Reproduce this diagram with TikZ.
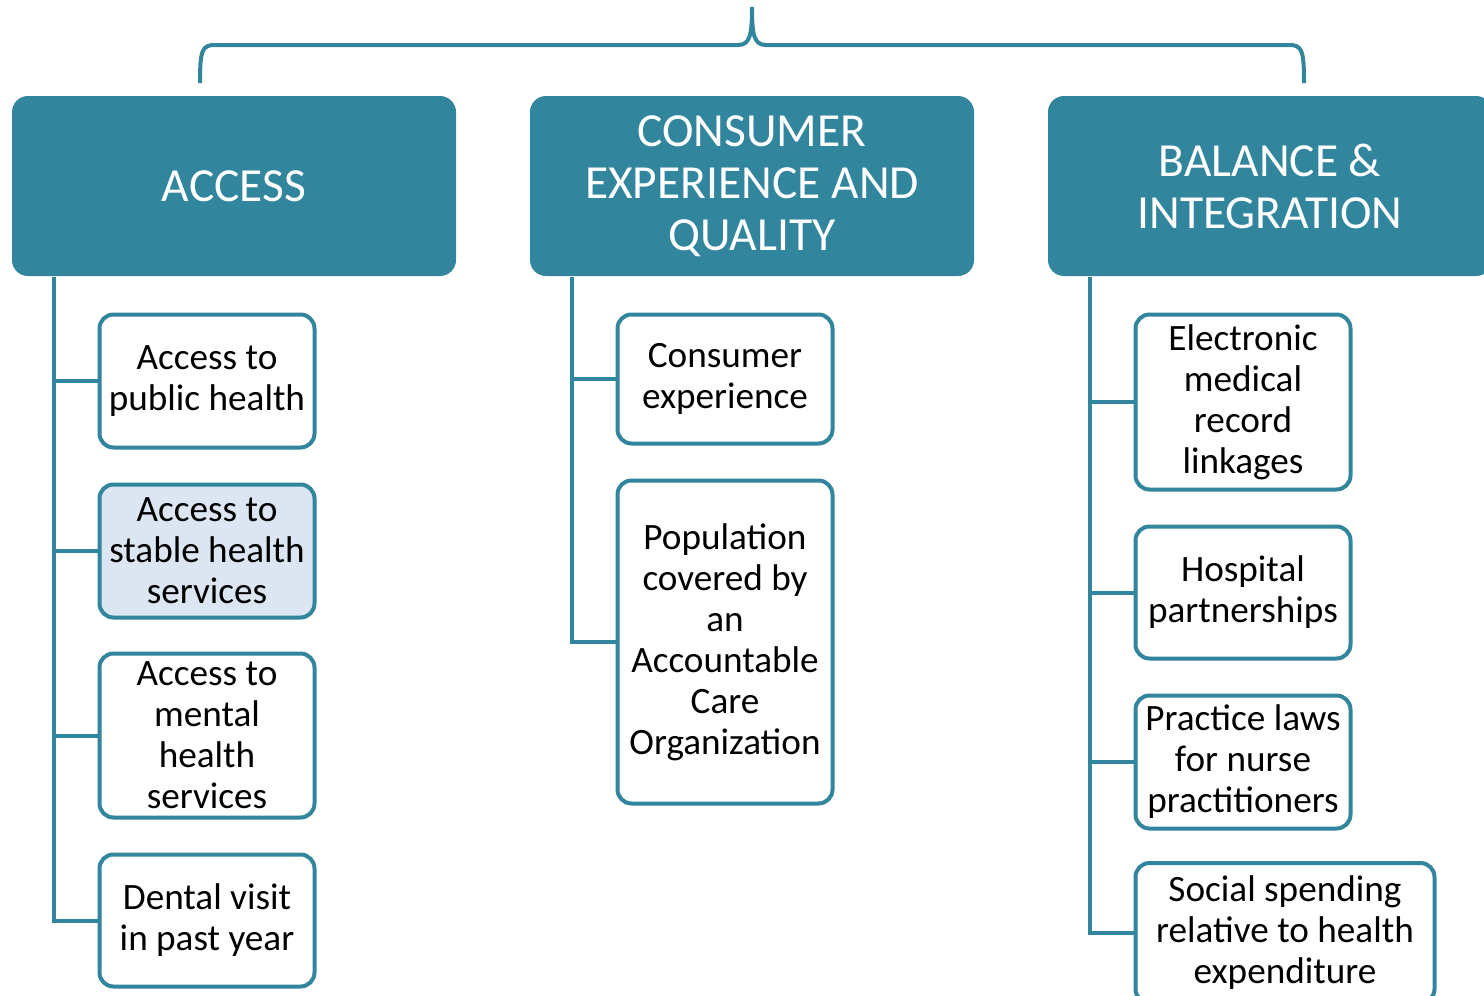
\documentclass[tikz,border=0pt]{standalone}
\usepackage{fontspec}
\setmainfont{Carlito}
\definecolor{teal1}{RGB}{49,133,156}
\definecolor{pale}{RGB}{220,230,242}
\begin{document}
\begin{tikzpicture}[x=1pt,y=-1pt,
  header/.style={fill=teal1,draw=none,rounded corners=16pt,text=white,align=center,inner sep=0pt,
    font=\fontsize{47.5}{52}\selectfont,minimum width=444pt,minimum height=180pt},
  child/.style={draw=teal1,line width=4pt,rounded corners=14pt,fill=white,align=center,inner sep=0pt,
    font=\fontsize{37.2}{41}\selectfont,minimum width=215pt},
  conn/.style={draw=teal1,line width=4pt}]
\useasboundingbox (0,0) rectangle (1484,996);
% brace
\draw[conn,line width=4pt] (200,83) .. controls (200,50) and (202,45) .. (215,45) -- (738,45)
  .. controls (750,45) and (752,35) .. (752,7) .. controls (752,35) and (754,45) .. (766,45)
  -- (1289,45) .. controls (1302,45) and (1304,50) .. (1304,83);
% headers
\node[header] (h1) at (234,186) {ACCESS};
\node[header] (h2) at (752,186) {CONSUMER\\EXPERIENCE AND\\QUALITY};
\node[header] (h3) at (1270,186) {BALANCE \&\\INTEGRATION};
% access children
\node[child,minimum height=133pt] (a1) at (207,381) {Access to\\public health};
\node[child,minimum height=133pt,fill=pale] (a2) at (207,551) {Access to\\stable health\\services};
\node[child,minimum height=164pt] (a3) at (207,735.5) {Access to\\mental\\health\\services};
\node[child,minimum height=132pt] (a4) at (207,920.5) {Dental visit\\in past year};
% consumer children
\node[child,minimum height=129pt] (b1) at (725,379) {Consumer\\experience};
\node[child,minimum height=323pt] (b2) at (725,642) {Population\\covered by\\an\\Accountable\\Care\\Organization};
% balance children
\node[child,minimum height=175pt] (c1) at (1243,402) {Electronic\\medical\\record\\linkages};
\node[child,minimum height=132pt] (c2) at (1243,592.5) {Hospital\\partnerships};
\node[child,minimum height=133pt] (c3) at (1243,762) {Practice laws\\for nurse\\practitioners};
\node[child,minimum height=140pt,minimum width=299pt] (c4) at (1285,933) {Social spending\\relative to health\\expenditure};
% connectors
\coordinate (t1) at (54,277);
\coordinate (t2) at (572,277);
\coordinate (t3) at (1090,277);
\draw[conn] (t1) |- (a4.west);
\draw[conn] (a1.west) -- (a1.west -| t1);
\draw[conn] (a2.west) -- (a2.west -| t1);
\draw[conn] (a3.west) -- (a3.west -| t1);
\draw[conn] (t2) |- (b2.west);
\draw[conn] (b1.west) -- (b1.west -| t2);
\draw[conn] (t3) |- (c4.west);
\draw[conn] (c1.west) -- (c1.west -| t3);
\draw[conn] (c2.west) -- (c2.west -| t3);
\draw[conn] (c3.west) -- (c3.west -| t3);
\end{tikzpicture}
\end{document}
